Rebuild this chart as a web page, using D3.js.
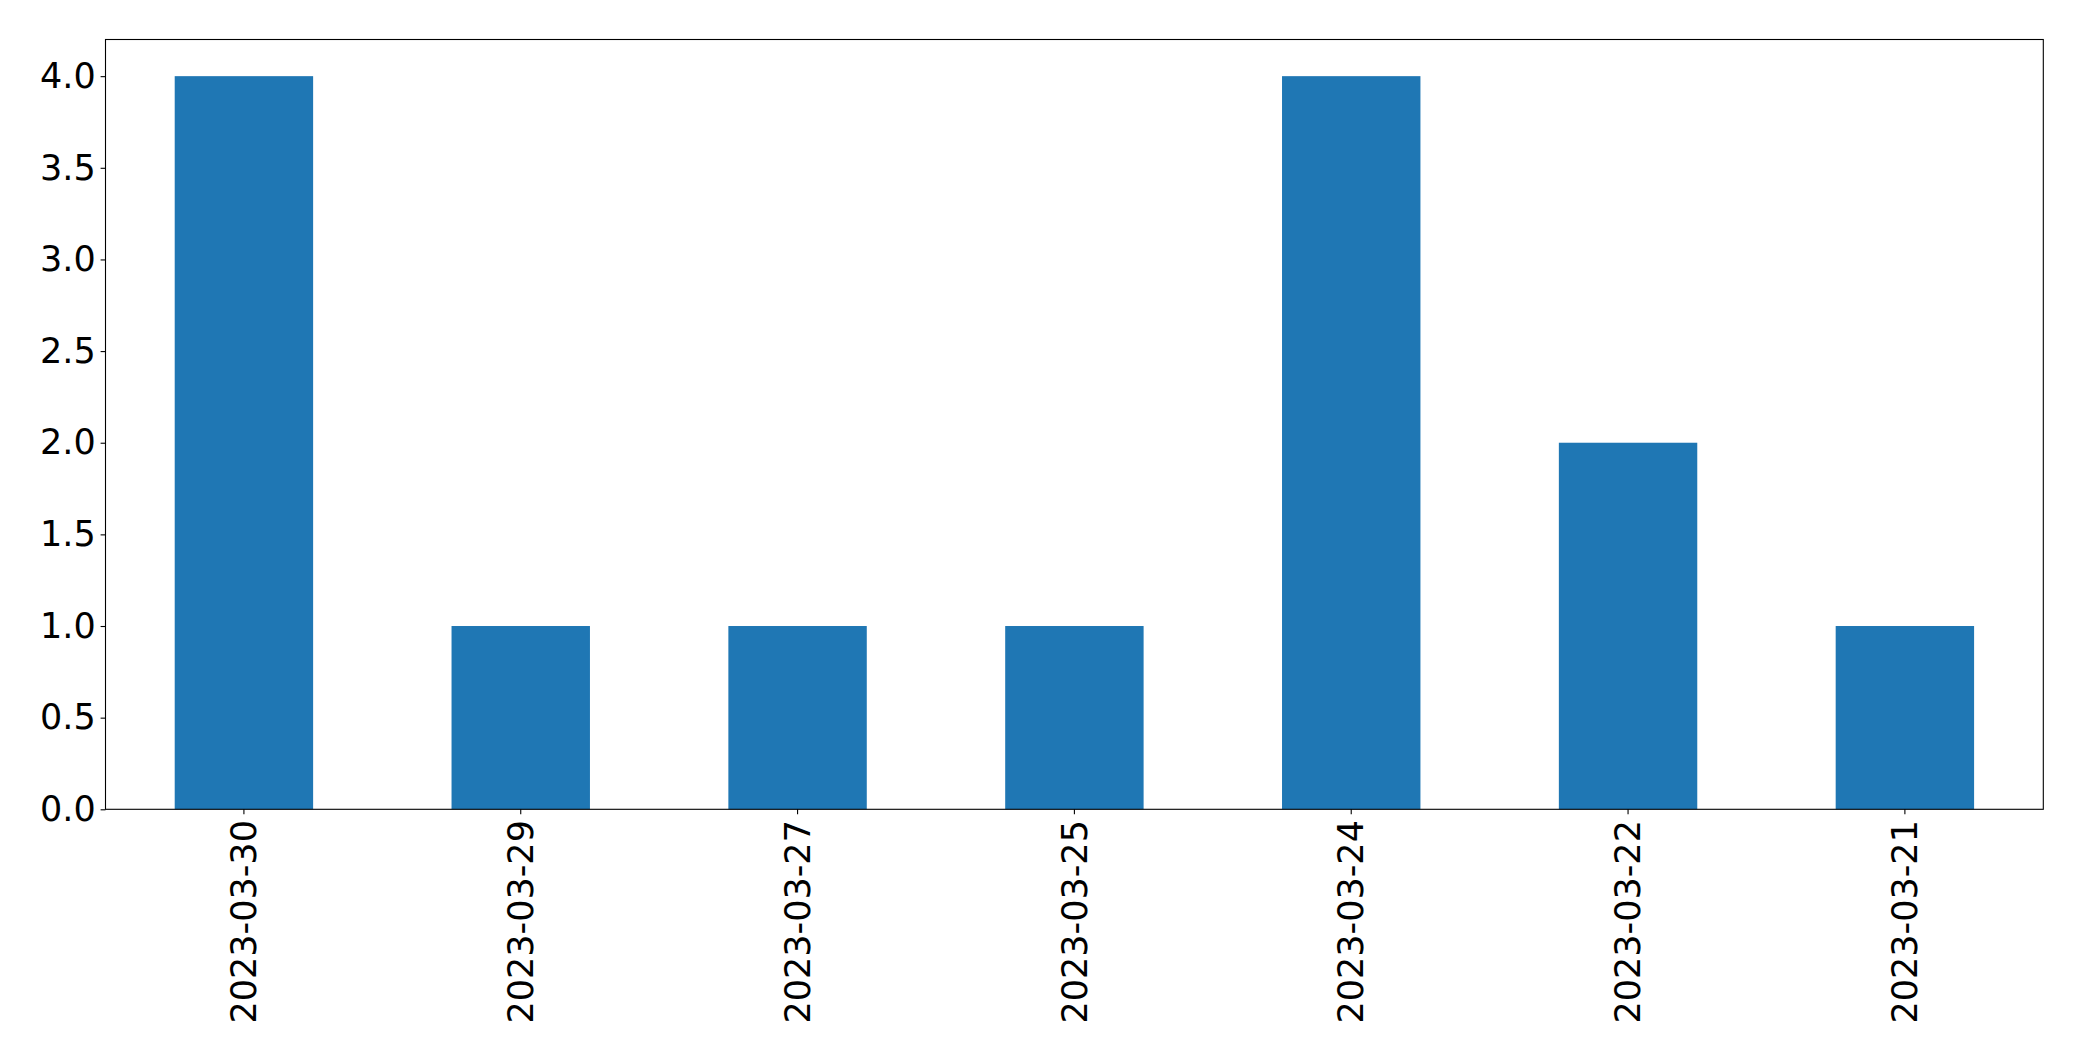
<!DOCTYPE html>
<html>
<head>
<meta charset="utf-8">
<script src="https://cdn.jsdelivr.net/npm/d3@7"></script>
<style>
  html, body { margin: 0; padding: 0; background: #fff; }
  svg { display: block; }
  text { font-family: "DejaVu Sans", sans-serif; fill: #000; }
</style>
</head>
<body>
<svg id="chart" width="2082" height="1061"></svg>
<script>
const categories = ["2023-03-30", "2023-03-29", "2023-03-27", "2023-03-25", "2023-03-24", "2023-03-22", "2023-03-21"];
const values = [4, 1, 1, 1, 4, 2, 1];
const yTicks = [0.0, 0.5, 1.0, 1.5, 2.0, 2.5, 3.0, 3.5, 4.0];

const margin = { left: 105.5, top: 39.5, right: 2082 - 2043.3, bottom: 1061 - 809.3 };
const width = 2082 - margin.left - margin.right;
const height = 1061 - margin.top - margin.bottom;

const svg = d3.select("#chart");
const g = svg.append("g").attr("transform", `translate(${margin.left},${margin.top})`);

const x = d3.scaleBand().domain(categories).range([0, width]).paddingInner(0.5).paddingOuter(0.25);
const y = d3.scaleLinear().domain([0, 4.2]).range([height, 0]);

g.selectAll("rect.bar")
  .data(categories)
  .enter().append("rect")
  .attr("class", "bar")
  .attr("x", d => x(d))
  .attr("width", x.bandwidth())
  .attr("y", (d, i) => y(values[i]))
  .attr("height", (d, i) => y(0) - y(values[i]))
  .attr("fill", "#1f77b4");

const fs = 35;

const yAxis = g.append("g")
  .call(d3.axisLeft(y).tickValues(yTicks).tickFormat(d3.format(".1f")).tickSize(4.9).tickPadding(4.9));
yAxis.select(".domain").remove();
yAxis.selectAll("line").attr("stroke", "#000").attr("stroke-width", 1.1);
yAxis.selectAll("text").style("font-size", fs + "px").style("font-family", "DejaVu Sans").attr("fill", "#000");

const xAxis = g.append("g")
  .attr("transform", `translate(0,${height})`)
  .call(d3.axisBottom(x).tickSize(4.9).tickPadding(4.9));
xAxis.select(".domain").remove();
xAxis.selectAll("line").attr("stroke", "#000").attr("stroke-width", 1.1);
xAxis.selectAll("text")
  .style("font-size", fs + "px").style("font-family", "DejaVu Sans").attr("fill", "#000")
  .attr("transform", "rotate(-90)")
  .attr("text-anchor", "end")
  .attr("x", -(4.9 + 4.9 + 1))
  .attr("y", 0)
  .attr("dy", "0.35em");

// frame
g.append("rect")
  .attr("x", 0).attr("y", 0).attr("width", width).attr("height", height)
  .attr("fill", "none").attr("stroke", "#000").attr("stroke-width", 1.1);
</script>
</body>
</html>
